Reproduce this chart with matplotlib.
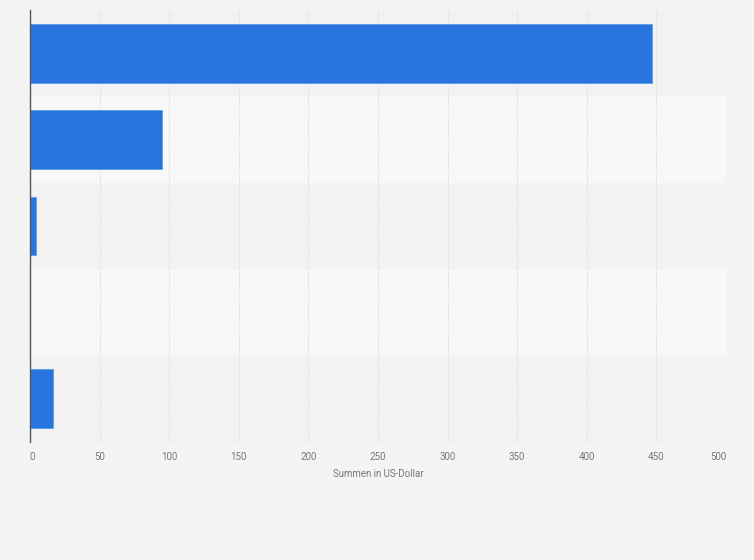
import matplotlib
matplotlib.use("Agg")
import matplotlib.pyplot as plt
import numpy as np

categories = ["Kategorie 1", "Kategorie 2", "Kategorie 3", "Kategorie 4", "Kategorie 5"]
values = [447, 94.5, 4.5, 0, 16.5]
xticks = [0, 50, 100, 150, 200, 250, 300, 350, 400, 450, 500]
xlabel = "Summen in US-Dollar"

plt.rcParams['font.family'] = ['Roboto', 'DejaVu Sans']

fig = plt.figure(figsize=(7.54, 5.60), dpi=100, facecolor="#f4f4f4")
ax = fig.add_axes([30/754, 1-442/560, 696/754, 432/560])
ax.set_facecolor("#f4f4f4")

n = len(categories)
y = np.arange(n)
for i in range(n):
    ax.axhspan(i-0.5, i+0.5, color="#f2f2f2" if i % 2 == 0 else "#f8f8f8", zorder=0, lw=0)

ax.barh(y, values, height=0.68, color="#2876dd", edgecolor="#5a9be8", linewidth=0.6, zorder=3)

ax.set_ylim(n-0.5, -0.5)
ax.set_xlim(0, 500)
ax.set_xticks(xticks)
labels = ax.set_xticklabels([str(t) for t in xticks], fontsize=7, color="#777777")
labels[0].set_horizontalalignment("left")
labels[-1].set_horizontalalignment("right")
ax.set_yticks(y)
ax.set_yticklabels([])
ax.tick_params(axis="y", length=0)
ax.tick_params(axis="x", length=0, pad=7)
ax.grid(axis="x", color="#dadada", linestyle=(0, (1.5, 1.5)), linewidth=0.7, zorder=1)
ax.set_axisbelow(True)
for s in ["top", "right", "bottom"]:
    ax.spines[s].set_visible(False)
ax.spines["left"].set_color("#555555")
ax.spines["left"].set_linewidth(1.0)
ax.spines["left"].set_zorder(4)
ax.set_xlabel(xlabel, fontsize=7, color="#777777", labelpad=5)

fig.savefig("out.png", dpi=100, facecolor=fig.get_facecolor())
